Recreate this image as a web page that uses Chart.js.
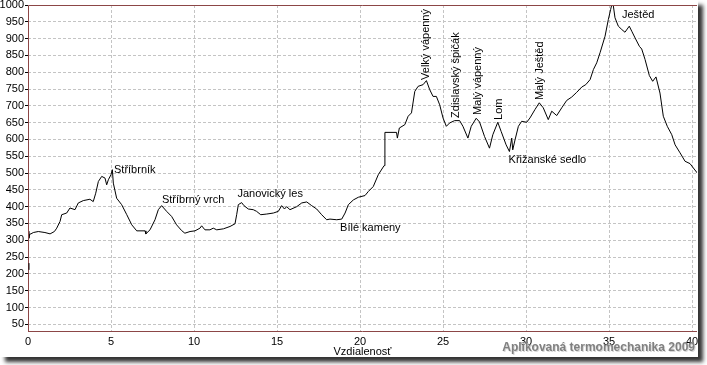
<!DOCTYPE html>
<html>
<head>
<meta charset="utf-8">
<title>Výškový profil</title>
<script src="https://cdn.jsdelivr.net/npm/chart.js@4.4.0/dist/chart.umd.min.js"></script>
<style>
body { margin: 0; background: #fff; }
.chart-box { width: 707px; height: 365px; }
</style>
</head>
<body>
<div class="chart-box"><canvas class="chart-1"></canvas></div>
<script>
// vzdialenost v km
const distances = [
    0, 0, 0.02, 0.03, 0.05, 0.1, 0.18, 0.32, 0.62, 1.02, 1.33, 1.59, 1.73, 1.93, 2.03, 2.33, 2.53, 2.83,
    3.03, 3.33, 3.73, 3.93, 4.08, 4.24, 4.44, 4.64, 4.74, 4.84, 5.0, 5.08, 5.14, 5.34, 5.64, 5.95,
    6.25, 6.55, 7.05, 7.1, 7.35, 7.65, 7.85, 8.05, 8.35, 8.65, 8.95, 9.25, 9.45, 9.76, 10.06, 10.36,
    10.46, 10.66, 10.96, 11.16, 11.37, 11.77, 12.17, 12.47, 12.57, 12.67, 12.87, 13.01, 13.27, 13.57,
    13.77, 14.02, 14.38, 14.78, 15.08, 15.28, 15.45, 15.58, 15.78, 16.19, 16.49, 16.79, 17.09, 17.39,
    17.69, 17.99, 18.19, 18.6, 18.9, 19.1, 19.3, 19.6, 19.9, 20.3, 20.5, 20.8, 21.1, 21.45, 21.5, 22.2,
    22.25, 22.37, 22.7, 22.9, 23.1, 23.3, 23.5, 23.8, 24.0, 24.2, 24.4, 24.6, 24.8, 25.0, 25.2, 25.4,
    25.7, 26.0, 26.2, 26.5, 26.7, 27.0, 27.2, 27.5, 27.8, 28.0, 28.3, 28.5, 28.8, 29.0, 29.14, 29.2,
    29.34, 29.54, 29.74, 30.04, 30.24, 30.54, 30.8, 31.04, 31.34, 31.55, 31.85, 32.15, 32.45, 32.75,
    33.05, 33.36, 33.6, 33.86, 34.06, 34.26, 34.46, 34.76, 34.96, 35.1, 35.22, 35.36, 35.56, 35.77,
    35.96, 36.22, 36.37, 36.57, 36.83, 36.97, 37.17, 37.43, 37.63, 37.83, 38.07, 38.27, 38.51, 38.78,
    38.98, 39.28, 39.58, 39.88, 40.08, 40.32
];
// nadmorska vyska v m
const elevations = [
    232, 212, null, 327, 306, 318, 319, 323, 326, 323, 319, 326, 336, 356, 376, 381, 396, 391,
    411, 418, 422, 415, 440, 475, 490, 485, 465, 480, 495, 510, 470, 425, 406, 376,
    346, 328, 328, 319, 331, 361, 391, 403, 386, 371, 346, 329, 321, 326, 328, 336,
    343, 331, 331, 336, 331, 334, 341, 349, 376, 406, 412, 403, 393, 391,
    386, 376, 378, 381, 386, 403, 393, 400, 391, 400, 411, 414, 403, 393,
    376, 361, 363, 361, 363, 381, 406, 420, 428, 433, 445, 460, 495, 522, 621, 621,
    604, 634, 644, 669, 679, 743, 758, 763, 775, 748, 728, 728, 703, 664, 639, 649,
    656, 656, 639, 604, 639, 663, 652, 609, 574, 614, 651, 624, 584, 564, 604, 569,
    599, 639, 654, 651, 664, 689, 709, 694, 659, 684, 671, 694, 716, 726,
    740, 756, 763, 778, 808, 828, 858, 907, 957, 987, 1012, 962, 937, 927,
    919, 937, 922, 902, 877, 869, 838, 790, 773, 786, 738, 669, 639, 614,
    584, 560, 535, 528, 515, 500
];

const xTicks = [0, 5, 10, 15, 20, 25, 30, 35, 40];
const yTicks = [50, 100, 150, 200, 250, 300, 350, 400, 450, 500, 550, 600, 650, 700, 750, 800, 850, 900, 950, 1000];

// popisky vrcholov
const placeNames = ['Stříbrník', 'Stříbrný vrch', 'Janovický les', 'Bílé kameny', 'Velký vápenný',
    'Zdislavský špičák', 'Malý vápenný', 'Lom', 'Malý Ještěd', 'Křižanské sedlo', 'Ještěd'];
const placeDistances = [5.18, 8.07, 12.62, 18.8, 23.98, 25.81, 27.11, 28.37, 30.84, 28.95, 35.78];
const placeElevations = [500, 411, 429, 329, 777, 664, 673, 658, 717, 530, 960];
const placeVertical = [false, false, false, false, true, true, true, true, true, false, false];

const fontFamily = '"Liberation Sans", Arial, sans-serif';
const chart1 = document.querySelector('.chart-1');

const points = [];
for (let i = 0; i < distances.length; i++) {
    points.push({x: distances[i], y: elevations[i]});
}

const framePlugin = {
    id: 'frame',
    beforeDraw(chart) {
        const ctx = chart.ctx;
        ctx.save();
        ctx.fillStyle = '#fff';
        ctx.fillRect(0, 0, chart.width, chart.height);
        ctx.shadowColor = 'rgba(0,0,0,0.8)';
        ctx.shadowBlur = 4;
        ctx.shadowOffsetX = 5;
        ctx.shadowOffsetY = 5;
        ctx.fillRect(0, 0, 698, 357);
        ctx.restore();
    },
    afterDatasetsDraw(chart) {
        const ctx = chart.ctx;
        const x = chart.scales.x;
        const y = chart.scales.y;
        ctx.save();
        ctx.fillStyle = '#000';
        ctx.font = '11px ' + fontFamily;
        for (let i = 0; i < placeNames.length; i++) {
            const px = x.getPixelForValue(placeDistances[i]);
            const py = y.getPixelForValue(placeElevations[i]);
            if (placeVertical[i]) {
                ctx.save();
                ctx.translate(px, py);
                ctx.rotate(-Math.PI / 2);
                ctx.textAlign = 'left';
                ctx.textBaseline = 'middle';
                ctx.fillText(placeNames[i], 0, 0);
                ctx.restore();
            } else {
                ctx.textAlign = 'left';
                ctx.textBaseline = 'alphabetic';
                ctx.fillText(placeNames[i], px, py);
            }
        }
        ctx.restore();
    },
    afterDraw(chart) {
        const ctx = chart.ctx;
        const a = chart.chartArea;
        ctx.save();
        ctx.strokeStyle = '#8c4646';
        ctx.lineWidth = 1;
        ctx.beginPath();
        ctx.moveTo(a.left + 0.5, a.bottom + 0.5);
        ctx.lineTo(a.left + 0.5, a.top + 0.5);
        ctx.lineTo(a.right, a.top + 0.5);
        ctx.moveTo(a.left, a.bottom + 0.5);
        ctx.lineTo(a.right, a.bottom + 0.5);
        ctx.stroke();

        // zaciatok trasy lezi na osi, tak ho kreslime znova
        const x0 = chart.scales.x.getPixelForValue(distances[0]) + 1;
        ctx.strokeStyle = '#000';
        ctx.beginPath();
        ctx.moveTo(x0, chart.scales.y.getPixelForValue(elevations[0]));
        ctx.lineTo(x0, chart.scales.y.getPixelForValue(elevations[1]));
        ctx.stroke();

        ctx.font = 'bold 12px ' + fontFamily;
        ctx.textAlign = 'right';
        ctx.textBaseline = 'alphabetic';
        ctx.fillStyle = '#d8d8d8';
        ctx.fillText('Aplikovaná termomechanika 2009', 696, 352);
        ctx.fillStyle = '#808080';
        ctx.fillText('Aplikovaná termomechanika 2009', 695, 351);
        ctx.restore();
    }
};

new Chart(chart1, {
    type: 'line',
    data: {
        datasets: [{
            data: points,
            borderColor: '#000',
            borderWidth: 1,
            pointRadius: 0,
            tension: 0,
            spanGaps: false,
            fill: false
        }]
    },
    options: {
        responsive: true,
        maintainAspectRatio: false,
        animation: false,
        layout: { padding: { top: 5, right: 10, left: 0, bottom: 0 } },
        plugins: {
            legend: { display: false },
            tooltip: { enabled: false }
        },
        scales: {
            x: {
                type: 'linear',
                min: 0,
                max: 40.3,
                afterBuildTicks: scale => { scale.ticks = xTicks.map(v => ({value: v})); },
                afterFit: scale => { scale.height = 34; scale.paddingLeft = 0; scale.paddingRight = 0; },
                grid: { color: '#c4c4c4', drawTicks: false },
                border: { display: false, dash: [3, 2] },
                ticks: { padding: 4, color: '#000', maxRotation: 0, autoSkip: false, callback: v => String(v), font: { family: fontFamily, size: 11 } },
                title: { display: true, text: 'Vzdialenosť', color: '#000', padding: { top: 0, bottom: 6 }, font: { family: fontFamily, size: 11 } }
            },
            y: {
                type: 'linear',
                min: 30,
                max: 1000,
                afterBuildTicks: scale => { scale.ticks = yTicks.map(v => ({value: v})); },
                afterFit: scale => { scale.width = 28; scale.paddingTop = 0; scale.paddingBottom = 0; },
                grid: { color: '#c4c4c4', tickColor: '#000', tickLength: 3 },
                border: { display: false, dash: [3, 2] },
                ticks: { padding: 1, color: '#000', autoSkip: false, callback: v => String(v), font: { family: fontFamily, size: 11 } }
            }
        }
    },
    plugins: [framePlugin]
});
</script>
</body>
</html>
